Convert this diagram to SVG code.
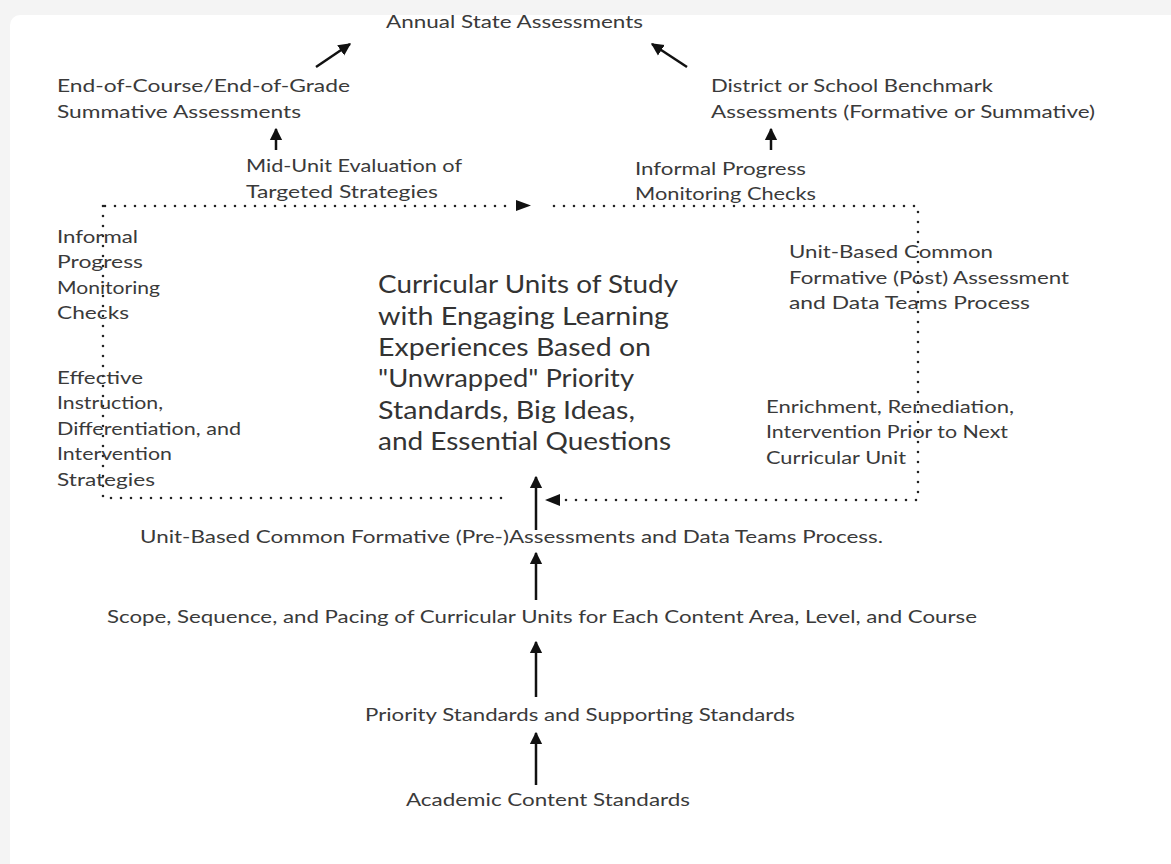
<svg xmlns="http://www.w3.org/2000/svg" width="1171" height="864" viewBox="0 0 1171 864">
<defs>
<style>
.t{font-family:Lato,"Open Sans","Liberation Sans",sans-serif;font-size:18px;fill:#3a3a3a;}
.big{font-family:Lato,"Open Sans","Liberation Sans",sans-serif;font-size:25px;fill:#333;}
.solid{stroke:#111;stroke-width:2.5;fill:none;}
.dot{stroke:#222;stroke-width:2.6;stroke-linecap:round;stroke-dasharray:0 10;fill:none;}
</style>
<marker id="ah" viewBox="0 0 10 10" refX="9" refY="5" markerWidth="5" markerHeight="5.5" markerUnits="strokeWidth" orient="auto">
<path d="M0,0 L10,5 L0,10 z" fill="#111"/>
</marker>
</defs>
<rect x="0" y="0" width="1171" height="864" fill="#f4f4f4"/>
<rect x="10" y="15" width="1175" height="860" rx="10" fill="#ffffff"/>

<g id="connectors">
<line class="solid" x1="316" y1="67" x2="350" y2="44" marker-end="url(#ah)"/>
<line class="solid" x1="687" y1="67" x2="652" y2="44" marker-end="url(#ah)"/>
<line class="solid" x1="276" y1="150" x2="276" y2="129" marker-end="url(#ah)"/>
<line class="solid" x1="771" y1="150" x2="771" y2="129" marker-end="url(#ah)"/>
<line class="solid" x1="536" y1="530" x2="536" y2="477" marker-end="url(#ah)"/>
<line class="solid" x1="536" y1="600" x2="536" y2="553" marker-end="url(#ah)"/>
<line class="solid" x1="536" y1="697" x2="536" y2="642" marker-end="url(#ah)"/>
<line class="solid" x1="536" y1="785" x2="536" y2="733" marker-end="url(#ah)"/>
<path class="dot" d="M105,206 L515,206"/>
<path d="M516,200 L531,205.5 L516,211 z" fill="#111"/>
<path class="dot" d="M554,206 L918,206 L918,500 L560,500"/>
<path d="M560,494 L545,500 L560,506 z" fill="#111"/>
<path class="dot" d="M103,206 L103,498 L505,498"/>
</g>

<g id="n-annual"><text class="t" x="386" y="28" textLength="257" lengthAdjust="spacingAndGlyphs">Annual State Assessments</text></g>
<g id="n-eoc">
<text class="t" x="57" y="92" textLength="293" lengthAdjust="spacingAndGlyphs">End-of-Course/End-of-Grade</text>
<text class="t" x="57" y="118" textLength="244" lengthAdjust="spacingAndGlyphs">Summative Assessments</text>
</g>
<g id="n-district">
<text class="t" x="711" y="92" textLength="282" lengthAdjust="spacingAndGlyphs">District or School Benchmark</text>
<text class="t" x="711" y="118" textLength="384" lengthAdjust="spacingAndGlyphs">Assessments (Formative or Summative)</text>
</g>
<g id="n-midunit">
<text class="t" x="246" y="172" textLength="216" lengthAdjust="spacingAndGlyphs">Mid-Unit Evaluation of</text>
<text class="t" x="246" y="198" textLength="192" lengthAdjust="spacingAndGlyphs">Targeted Strategies</text>
</g>
<g id="n-informal-top">
<text class="t" x="635" y="175" textLength="171" lengthAdjust="spacingAndGlyphs">Informal Progress</text>
<text class="t" x="635" y="200" textLength="181" lengthAdjust="spacingAndGlyphs">Monitoring Checks</text>
</g>
<g id="n-informal-left">
<text class="t" x="57" y="243" textLength="81" lengthAdjust="spacingAndGlyphs">Informal</text>
<text class="t" x="57" y="268" textLength="86" lengthAdjust="spacingAndGlyphs">Progress</text>
<text class="t" x="57" y="294" textLength="103" lengthAdjust="spacingAndGlyphs">Monitoring</text>
<text class="t" x="57" y="319" textLength="72" lengthAdjust="spacingAndGlyphs">Checks</text>
</g>
<g id="n-effective">
<text class="t" x="57" y="384" textLength="86" lengthAdjust="spacingAndGlyphs">Effective</text>
<text class="t" x="57" y="409" textLength="106" lengthAdjust="spacingAndGlyphs">Instruction,</text>
<text class="t" x="57" y="435" textLength="184" lengthAdjust="spacingAndGlyphs">Differentiation, and</text>
<text class="t" x="57" y="460" textLength="115" lengthAdjust="spacingAndGlyphs">Intervention</text>
<text class="t" x="57" y="486" textLength="98" lengthAdjust="spacingAndGlyphs">Strategies</text>
</g>
<g id="n-post">
<text class="t" x="789" y="258" textLength="204" lengthAdjust="spacingAndGlyphs">Unit-Based Common</text>
<text class="t" x="789" y="284" textLength="280" lengthAdjust="spacingAndGlyphs">Formative (Post) Assessment</text>
<text class="t" x="789" y="309" textLength="241" lengthAdjust="spacingAndGlyphs">and Data Teams Process</text>
</g>
<g id="n-enrich">
<text class="t" x="766" y="413" textLength="248" lengthAdjust="spacingAndGlyphs">Enrichment, Remediation,</text>
<text class="t" x="766" y="438" textLength="242" lengthAdjust="spacingAndGlyphs">Intervention Prior to Next</text>
<text class="t" x="766" y="464" textLength="140" lengthAdjust="spacingAndGlyphs">Curricular Unit</text>
</g>
<g id="n-center">
<text class="big" x="378" y="293" textLength="300" lengthAdjust="spacingAndGlyphs">Curricular Units of Study</text>
<text class="big" x="378" y="325" textLength="291" lengthAdjust="spacingAndGlyphs">with Engaging Learning</text>
<text class="big" x="378" y="356" textLength="273" lengthAdjust="spacingAndGlyphs">Experiences Based on</text>
<text class="big" x="378" y="387" textLength="256" lengthAdjust="spacingAndGlyphs">"Unwrapped" Priority</text>
<text class="big" x="378" y="419" textLength="257" lengthAdjust="spacingAndGlyphs">Standards, Big Ideas,</text>
<text class="big" x="378" y="450" textLength="293" lengthAdjust="spacingAndGlyphs">and Essential Questions</text>
</g>
<g id="n-pre"><text class="t" x="140" y="543" textLength="743" lengthAdjust="spacingAndGlyphs">Unit-Based Common Formative (Pre-)Assessments and Data Teams Process.</text></g>
<g id="n-scope"><text class="t" x="107" y="623" textLength="870" lengthAdjust="spacingAndGlyphs">Scope, Sequence, and Pacing of Curricular Units for Each Content Area, Level, and Course</text></g>
<g id="n-priority"><text class="t" x="365" y="721" textLength="430" lengthAdjust="spacingAndGlyphs">Priority Standards and Supporting Standards</text></g>
<g id="n-academic"><text class="t" x="406" y="806" textLength="284" lengthAdjust="spacingAndGlyphs">Academic Content Standards</text></g>
</svg>
